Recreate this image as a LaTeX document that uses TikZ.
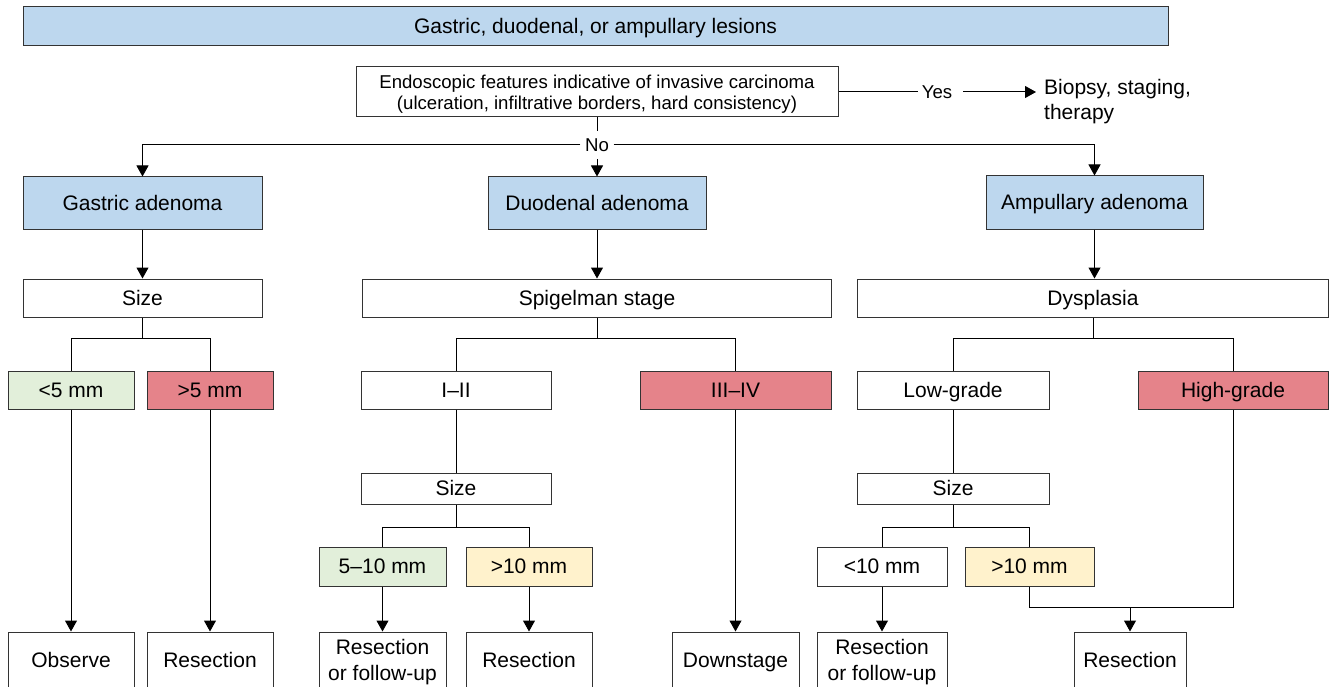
\documentclass[tikz,border=0pt]{standalone}
\usepackage{fontspec}
\setmainfont{Liberation Sans}
\usetikzlibrary{arrows.meta,positioning}
\definecolor{adenblue}{HTML}{BDD7EE}
\definecolor{hired}{HTML}{E5838A}
\definecolor{lowgreen}{HTML}{E2EFDA}
\definecolor{midyellow}{HTML}{FFF2CC}
\definecolor{edgegray}{HTML}{333333}

\begin{document}
\begin{tikzpicture}[x=1pt, y=-1pt,
    box/.style={draw=edgegray, line width=1pt, fill=white, inner sep=0pt, align=center, text height=19pt, text depth=4.5pt, font=\fontsize{21}{26}\selectfont},
    twoline/.style={text height=, text depth=},
    bluebox/.style={box, fill=adenblue},
    redbox/.style={box, fill=hired},
    greenbox/.style={box, fill=lowgreen},
    yellowbox/.style={box, fill=midyellow},
    labeltext/.style={inner sep=0pt, text depth=0pt, font=\fontsize{18.6}{21}\selectfont},
    link/.style={line width=1pt},
    arr/.style={link, -{Triangle[width=12pt, length=11pt]}}]
    \useasboundingbox (0,0) rectangle (1330,687);

    \node [bluebox, minimum width=1145pt, minimum height=39pt] at (595.5, 26.5) (tit) {Gastric, duodenal, or ampullary lesions};
    \node [box, twoline, minimum width=482pt, minimum height=50pt, font=\fontsize{18.6}{21}\selectfont] at (597, 92) (endo) {\rule{0pt}{17.6pt}Endoscopic features indicative of invasive carcinoma\\(ulceration, infiltrative borders, hard consistency)};
    \node [labeltext] at (937, 92) (yes) {Yes};
    \node [inner sep=0pt, inner xsep=8pt, align=left, anchor=west, font=\fontsize{21}{25}\selectfont] at (1036, 101.5) (bio) {Biopsy, staging,\\therapy};
    \node [labeltext, minimum width=33pt, minimum height=28pt] at (597, 145) (no) {No};

    \node [bluebox, minimum width=239pt, minimum height=52pt] at (142.5, 203) (gas) {Gastric adenoma};
    \node [bluebox, minimum width=218pt, minimum height=52pt] at (597, 203) (duo) {Duodenal adenoma};
    \node [bluebox, minimum width=217pt, minimum height=53pt] at (1094.5, 202.5) (amp) {Ampullary adenoma};

    \node [box, minimum width=239pt, minimum height=38pt] at (142.5, 298) (gsize) {Size};
    \node [box, minimum width=469pt, minimum height=38pt] at (597, 298) (spig) {Spigelman stage};
    \node [box, minimum width=471pt, minimum height=38pt] at (1093, 298) (dysp) {Dysplasia};

    \node [greenbox, minimum width=126pt, minimum height=38pt] at (71, 390) (lt5) {<5 mm};
    \node [redbox, minimum width=126pt, minimum height=38pt] at (210, 390) (gt5) {>5 mm};
    \node [box, minimum width=190pt, minimum height=38pt] at (456, 390) (st12) {I–II};
    \node [redbox, minimum width=191pt, minimum height=38pt] at (735.5, 390) (st34) {III–IV};
    \node [box, minimum width=192pt, minimum height=38pt] at (953, 390) (low) {Low-grade};
    \node [redbox, minimum width=190pt, minimum height=38pt] at (1233, 390) (high) {High-grade};

    \node [box, minimum width=190pt, minimum height=31pt] at (456, 488.5) (dsize) {Size};
    \node [box, minimum width=192pt, minimum height=31pt] at (953, 488.5) (asize) {Size};

    \node [greenbox, minimum width=127pt, minimum height=39pt] at (382.5, 566.5) (d510) {5–10 mm};
    \node [yellowbox, minimum width=126pt, minimum height=39pt] at (529, 566.5) (d10) {>10 mm};
    \node [box, minimum width=130pt, minimum height=39pt] at (882, 566.5) (a10l) {<10 mm};
    \node [yellowbox, minimum width=129pt, minimum height=39pt] at (1029.5, 566.5) (a10h) {>10 mm};

    \node [box, minimum width=126pt, minimum height=56pt] at (71, 660) (obs) {Observe};
    \node [box, minimum width=126pt, minimum height=56pt] at (210, 660) (gres) {Resection};
    \node [box, twoline, minimum width=127pt, minimum height=56pt] at (382.5, 660) (dres1) {\rule{0pt}{19pt}Resection\\or follow-up};
    \node [box, minimum width=126pt, minimum height=56pt] at (529, 660) (dres2) {Resection};
    \node [box, minimum width=127pt, minimum height=56pt] at (735.5, 660) (down) {Downstage};
    \node [box, twoline, minimum width=130pt, minimum height=56pt] at (882, 660) (ares1) {\rule{0pt}{19pt}Resection\\or follow-up};
    \node [box, minimum width=112pt, minimum height=56pt] at (1130, 660) (ares2) {Resection};

    \draw [link] (endo.east) -- ([xshift=-4pt]yes.west);
    \draw [arr] ([xshift=11pt]yes.east) -- (bio.west |- yes);
    \draw [link] (endo.south) -- (no.north);
    \draw [arr] (no.south) -- (duo.north);
    \draw [arr] (no.west) -| (gas.north);
    \draw [arr] (no.east) -| (amp.north);

    \draw [arr] (gas.south) -- (gsize.north);
    \draw [link] (gsize.south) -- ++(0,21) coordinate (gj) -| (lt5.north);
    \draw [link] (gj) -| (gt5.north);
    \draw [arr] (lt5.south) -- (obs.north);
    \draw [arr] (gt5.south) -- (gres.north);

    \draw [arr] (duo.south) -- (spig.north);
    \draw [link] (spig.south) -- ++(0,21) coordinate (sj) -| (st12.north);
    \draw [link] (sj) -| (st34.north);
    \draw [link] (st12.south) -- (dsize.north);
    \draw [link] (dsize.south) -- ++(0,23) coordinate (dj) -| (d510.north);
    \draw [link] (dj) -| (d10.north);
    \draw [arr] (d510.south) -- (dres1.north);
    \draw [arr] (d10.south) -- (dres2.north);
    \draw [arr] (st34.south) -- (down.north);

    \draw [arr] (amp.south) -- (amp.south |- dysp.north);
    \draw [link] (dysp.south) -- ++(0,21) coordinate (aj) -| (low.north);
    \draw [link] (aj) -| (high.north);
    \draw [link] (low.south) -- (asize.north);
    \draw [link] (asize.south) -- ++(0,23) coordinate (zj) -| (a10l.north);
    \draw [link] (zj) -| (a10h.north);
    \draw [arr] (a10l.south) -- (ares1.north);
    \draw [link] (a10h.south) -- ++(0,21) coordinate (mj) -| (high.south);
    \draw [arr] (mj -| ares2.north) -- (ares2.north);
\end{tikzpicture}
\end{document}
